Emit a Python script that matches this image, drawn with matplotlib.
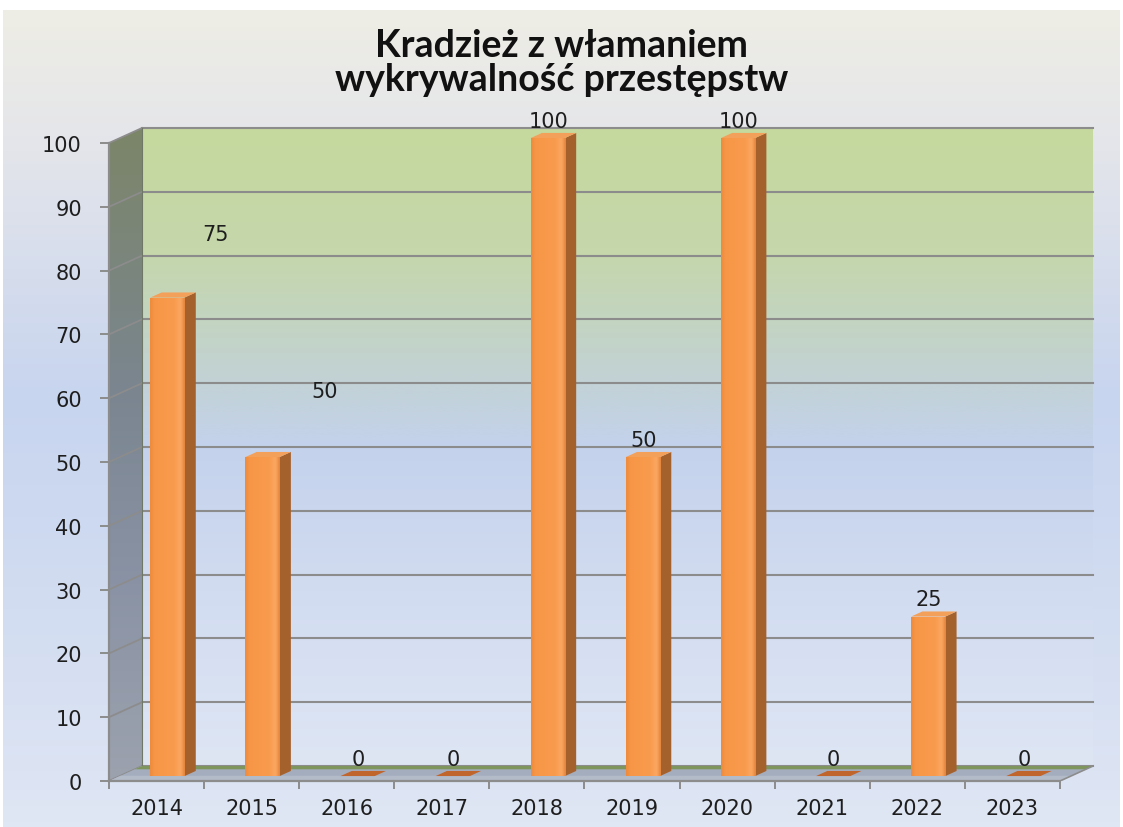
import numpy as np
import matplotlib.pyplot as plt
from matplotlib.colors import LinearSegmentedColormap
from matplotlib.patches import Polygon

years = ["2014", "2015", "2016", "2017", "2018", "2019", "2020", "2021", "2022", "2023"]
values = [75, 50, 0, 0, 100, 50, 100, 0, 25, 0]
y_ticks = list(range(0, 101, 10))
title = "Kradzież z włamaniem\nwykrywalność przestępstw"

# labels of 2014 and 2015 were dragged away from their bars in the original
label_nudge = {0: (0.5, 7.2), 1: (0.65, 7.6)}

W, H = 1123, 828
PX_CAT, PX_VAL = 95.1, 6.38          # pixels per category / per value unit
DX, DY = 0.347, 2.35                 # depth of the fake 3d box, data units
F0, F1 = 0.33, 0.67                  # bar depth position (front / back fraction)
BAR_W = 0.36
GRID = "#8C8C8C"
TXT = "#1E1E1E"
FS = 15


def vgrad(ax, extent, stops, zorder, clip=None):
    cmap = LinearSegmentedColormap.from_list("g", stops)
    g = np.linspace(0, 1, 256).reshape(-1, 1)
    im = ax.imshow(g, cmap=cmap, extent=extent, aspect="auto", origin="upper",
                   zorder=zorder, interpolation="bicubic")
    if clip is not None:
        im.set_clip_path(clip)
    return im


fig = plt.figure(figsize=(W / 100, H / 100), dpi=100, facecolor="white")

# ── figure background ───────────────────────────────────────────────────
bg = fig.add_axes([0.003, 0.0, 0.994, 1 - 11 / H], zorder=-10)
vgrad(bg, (0, 1, 0, 1), [(0, "#EEEDE5"), (0.15, "#E5E6EA"), (0.47, "#C8D5EF"),
                         (0.62, "#CDD9F0"), (1, "#DFE6F4")], 0)
bg.set_xlim(0, 1)
bg.set_ylim(0, 1)
bg.axis("off")

# ── plot area ───────────────────────────────────────────────────────────
xmax = 9.5 + DX + 0.03
ymax = 100 + DY + 0.4
ax = fig.add_axes([109 / W, (H - 782) / H, PX_CAT * (xmax + 0.5) / W, PX_VAL * ymax / H])
ax.patch.set_alpha(0)

x0, x1 = -0.5, len(years) - 0.5

# back wall
vgrad(ax, (x0 + DX, x1 + DX, DY, 100 + DY),
      [(0, "#C6D99D"), (0.2, "#C5D7AC"), (0.38, "#C2D2D2"), (0.5, "#C4D2EC"),
       (0.75, "#D3DDF1"), (1, "#DEE6F4")], 1)

# left side wall
side = Polygon([(x0, 0), (x0, 100), (x0 + DX, 100 + DY), (x0 + DX, DY)],
               closed=True, transform=ax.transData)
vgrad(ax, (x0, x0 + DX, 0, 100 + DY),
      [(0, "#7C8668"), (0.4, "#7A8590"), (0.7, "#8A93A5"), (1, "#9CA2AE")], 2, clip=side)

# gridlines on back wall and side wall
for v in y_ticks:
    ax.plot([x0 + DX, x1 + DX], [v + DY, v + DY], color=GRID, lw=1.5, zorder=3)
    ax.plot([x0, x0 + DX], [v, v + DY], color=GRID, lw=1.3, zorder=3)
ax.plot([x0 + DX, x0 + DX], [DY, 100 + DY], color="#6F7766", lw=0.8, zorder=3)

# floor
ax.add_patch(Polygon([(x0, 0), (x1, 0), (x1 + DX, DY), (x0 + DX, DY)],
                     closed=True, facecolor="#A4ADBE", edgecolor="none", zorder=4))
ax.add_patch(Polygon([(x0 + 0.78 * DX, 0.78 * DY), (x1 + 0.78 * DX, 0.78 * DY),
                      (x1 + DX, DY), (x0 + DX, DY)],
                     closed=True, facecolor="#7E955E", edgecolor="none", zorder=4))
ax.add_patch(Polygon([(x0, 0), (x1, 0), (x1 + 0.35 * DX, 0.35 * DY), (x0 + 0.35 * DX, 0.35 * DY)],
                     closed=True, facecolor="#B3BBC8", edgecolor="none", zorder=4))
ax.plot([x1, x1 + DX], [0, DY], color=GRID, lw=1.2, zorder=4)

# ── bars ────────────────────────────────────────────────────────────────
xs = np.arange(len(years))
bx, by = F0 * DX, F0 * DY
ddx, ddy = (F1 - F0) * DX, (F1 - F0) * DY
face_cmap = LinearSegmentedColormap.from_list(
    "h", [(0, "#EE8A3C"), (0.12, "#F79646"), (0.7, "#F99B4E"),
          (0.88, "#FBA862"), (1, "#E4843C")])
bars = ax.bar(xs + bx, values, width=BAR_W, bottom=by, color="#F79646",
              edgecolor="none", zorder=6)
for rect, v in zip(bars, values):
    xl, w = rect.get_x(), rect.get_width()
    xr = xl + w
    if v > 0:
        im = ax.imshow(np.linspace(0, 1, 64).reshape(1, -1), cmap=face_cmap,
                       extent=(xl, xr, by, by + v), aspect="auto", zorder=6.5,
                       interpolation="bicubic")
        im.set_clip_path(rect)
        ax.add_patch(Polygon([(xr, by), (xr, by + v), (xr + ddx, by + v + ddy), (xr + ddx, by + ddy)],
                             closed=True, facecolor="#A5612C", edgecolor="none", zorder=6))
    top_col = "#F2A05A" if v > 0 else "#C0652C"
    ax.add_patch(Polygon([(xl, by + v), (xr, by + v), (xr + ddx, by + v + ddy), (xl + ddx, by + v + ddy)],
                         closed=True, facecolor=top_col, edgecolor="none", zorder=7))

# data labels
for i, v in enumerate(values):
    nx, ny = label_nudge.get(i, (0, 0))
    ax.text(i + 0.12 + nx, v + 3.5 + ny, f"{v}", ha="center", va="center",
            fontsize=FS, color=TXT, zorder=8)

# ── axes styling ────────────────────────────────────────────────────────
ax.set_xlim(x0, xmax)
ax.set_ylim(0, ymax)
for s in ["top", "right"]:
    ax.spines[s].set_visible(False)
ax.spines["left"].set_bounds(0, 100)
ax.spines["bottom"].set_bounds(x0, x1)
for s in ["left", "bottom"]:
    ax.spines[s].set_color(GRID)
    ax.spines[s].set_linewidth(1.6)
    ax.spines[s].set_zorder(5)

ax.set_yticks(y_ticks)
ax.set_yticklabels([str(t) for t in y_ticks])
ax.tick_params(axis="y", length=6.5, width=1.4, color=GRID, pad=13,
               labelsize=FS, labelcolor=TXT)
ax.set_xticks(xs)
ax.set_xticklabels(years)
ax.set_xticks(np.arange(x0, x1 + 0.01, 1), minor=True)
ax.tick_params(axis="x", which="major", length=0, pad=12, labelsize=FS, labelcolor=TXT)
ax.tick_params(axis="x", which="minor", length=6, width=1.4, color=GRID)

fig.text(0.5, 1 - 63 / H, title, ha="center", va="center", fontsize=27,
         fontweight="bold", family="Lato", color="#111111", linespacing=1.0)

fig.savefig("out.png", dpi=100, facecolor="white")
